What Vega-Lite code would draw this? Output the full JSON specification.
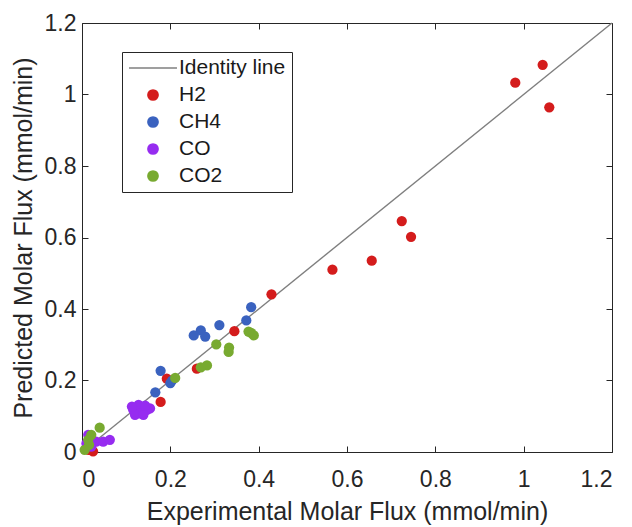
{
  "$schema": "https://vega.github.io/schema/vega-lite/v6.json",
  "autosize": {"type": "none"},
  "width": 530,
  "height": 429,
  "padding": {"left": 82, "top": 23, "right": 20, "bottom": 75},
  "background": "white",
  "config": {
    "font": "Liberation Sans",
    "view": {"stroke": null},
    "axis": {
      "grid": false,
      "domainColor": "#262626",
      "domainWidth": 1,
      "tickColor": "#262626",
      "tickSize": -6,
      "labelFontSize": 23,
      "labelColor": "#262626",
      "titleFontSize": 25,
      "titleFontWeight": "normal",
      "titleColor": "#262626",
      "labelFont": "Liberation Sans",
      "titleFont": "Liberation Sans"
    }
  },
  "datasets": {
    "idl": [
      {"exp": 0, "pred": 0, "series": "Identity line"},
      {"exp": 1.2, "pred": 1.2, "series": "Identity line"}
    ],
    "pts": [
      {"exp": 1.043, "pred": 1.083, "series": "H2"},
      {"exp": 0.981, "pred": 1.033, "series": "H2"},
      {"exp": 1.058, "pred": 0.964, "series": "H2"},
      {"exp": 0.724, "pred": 0.646, "series": "H2"},
      {"exp": 0.745, "pred": 0.602, "series": "H2"},
      {"exp": 0.656, "pred": 0.535, "series": "H2"},
      {"exp": 0.567, "pred": 0.510, "series": "H2"},
      {"exp": 0.429, "pred": 0.441, "series": "H2"},
      {"exp": 0.345, "pred": 0.338, "series": "H2"},
      {"exp": 0.260, "pred": 0.233, "series": "H2"},
      {"exp": 0.192, "pred": 0.205, "series": "H2"},
      {"exp": 0.178, "pred": 0.140, "series": "H2"},
      {"exp": 0.025, "pred": 0.002, "series": "H2"},
      {"exp": 0.015, "pred": 0.006, "series": "H2"},
      {"exp": 0.383, "pred": 0.405, "series": "CH4"},
      {"exp": 0.372, "pred": 0.368, "series": "CH4"},
      {"exp": 0.311, "pred": 0.355, "series": "CH4"},
      {"exp": 0.269, "pred": 0.340, "series": "CH4"},
      {"exp": 0.253, "pred": 0.326, "series": "CH4"},
      {"exp": 0.279, "pred": 0.323, "series": "CH4"},
      {"exp": 0.178, "pred": 0.227, "series": "CH4"},
      {"exp": 0.200, "pred": 0.193, "series": "CH4"},
      {"exp": 0.204, "pred": 0.200, "series": "CH4"},
      {"exp": 0.166, "pred": 0.167, "series": "CH4"},
      {"exp": 0.116, "pred": 0.118, "series": "CO"},
      {"exp": 0.128, "pred": 0.132, "series": "CO"},
      {"exp": 0.132, "pred": 0.108, "series": "CO"},
      {"exp": 0.147, "pred": 0.118, "series": "CO"},
      {"exp": 0.154, "pred": 0.122, "series": "CO"},
      {"exp": 0.120, "pred": 0.104, "series": "CO"},
      {"exp": 0.139, "pred": 0.104, "series": "CO"},
      {"exp": 0.113, "pred": 0.127, "series": "CO"},
      {"exp": 0.143, "pred": 0.130, "series": "CO"},
      {"exp": 0.014, "pred": 0.048, "series": "CO"},
      {"exp": 0.010, "pred": 0.024, "series": "CO"},
      {"exp": 0.021, "pred": 0.015, "series": "CO"},
      {"exp": 0.032, "pred": 0.029, "series": "CO"},
      {"exp": 0.048, "pred": 0.029, "series": "CO"},
      {"exp": 0.063, "pred": 0.034, "series": "CO"},
      {"exp": 0.383, "pred": 0.333, "series": "CO2"},
      {"exp": 0.389, "pred": 0.326, "series": "CO2"},
      {"exp": 0.377, "pred": 0.337, "series": "CO2"},
      {"exp": 0.304, "pred": 0.301, "series": "CO2"},
      {"exp": 0.333, "pred": 0.292, "series": "CO2"},
      {"exp": 0.332, "pred": 0.280, "series": "CO2"},
      {"exp": 0.283, "pred": 0.242, "series": "CO2"},
      {"exp": 0.269, "pred": 0.237, "series": "CO2"},
      {"exp": 0.211, "pred": 0.207, "series": "CO2"},
      {"exp": 0.040, "pred": 0.068, "series": "CO2"},
      {"exp": 0.021, "pred": 0.048, "series": "CO2"},
      {"exp": 0.014, "pred": 0.034, "series": "CO2"},
      {"exp": 0.016, "pred": 0.020, "series": "CO2"},
      {"exp": 0.006, "pred": 0.006, "series": "CO2"}
    ]
  },
  "resolve": {"scale": {"x": "independent", "y": "independent"}},
  "layer": [
    {
      "data": {"name": "idl"},
      "mark": {"type": "line", "strokeWidth": 1.4},
      "encoding": {
        "x": {"field": "exp", "type": "quantitative", "scale": {"domain": [0, 1.2]}, "axis": null},
        "y": {"field": "pred", "type": "quantitative", "scale": {"domain": [0, 1.2]}, "axis": null},
        "color": {"field": "series", "type": "nominal"}
      }
    },
    {
      "data": {"name": "pts"},
      "mark": {"type": "point", "filled": true, "opacity": 1},
      "encoding": {
        "x": {"field": "exp", "type": "quantitative", "scale": {"domain": [0, 1.2]},
              "axis": {"title": "Experimental Molar Flux (mmol/min)", "values": [0, 0.2, 0.4, 0.6, 0.8, 1, 1.2], "format": "~g", "labelPadding": 22, "titlePadding": 8}},
        "y": {"field": "pred", "type": "quantitative", "scale": {"domain": [0, 1.2]},
              "axis": {"title": "Predicted Molar Flux (mmol/min)", "values": [0, 0.2, 0.4, 0.6, 0.8, 1, 1.2], "format": "~g", "labelPadding": 12, "titlePadding": 8}},
        "color": {
          "field": "series", "type": "nominal",
          "scale": {"domain": ["Identity line", "H2", "CH4", "CO", "CO2"], "range": ["#7f7f7f", "#d41c1c", "#3a62bf", "#962cf0", "#78aa30"]},
          "legend": {
            "title": null,
            "orient": "none",
            "legendX": 40,
            "legendY": 29,
            "labelFontSize": 21,
            "labelColor": "#1a1a1a",
            "labelFont": "Liberation Sans",
            "labelOffset": 1,
            "strokeColor": "#262626",
            "fillColor": "white",
            "padding": 6,
            "rowPadding": 6,
            "clipHeight": 20,
            "encode": {"symbols": {"update": {
              "stroke": {"scale": "color", "field": "value"},
              "strokeWidth": {"value": 1.4},
              "size": {"signal": "datum.value === 'Identity line' ? 2300 : 60"}
            }}}
          }
        },
        "shape": {
          "field": "series", "type": "nominal",
          "scale": {"domain": ["Identity line", "H2", "CH4", "CO", "CO2"], "range": ["stroke", "circle", "circle", "circle", "circle"]},
          "legend": {"title": null}
        },
        "size": {
          "field": "series", "type": "nominal",
          "scale": {"type": "ordinal", "domain": ["Identity line", "H2", "CH4", "CO", "CO2"], "range": [2300, 105, 105, 105, 105]},
          "legend": {"title": null}
        }
      }
    },
    {
      "data": {"name": "idl"},
      "mark": {"type": "point", "opacity": 0},
      "encoding": {
        "x": {"field": "exp", "type": "quantitative", "scale": {"domain": [0, 1.2]},
              "axis": {"orient": "top", "labels": false, "title": null, "values": [0, 0.2, 0.4, 0.6, 0.8, 1, 1.2]}},
        "y": {"field": "pred", "type": "quantitative", "scale": {"domain": [0, 1.2]},
              "axis": {"orient": "right", "labels": false, "title": null, "values": [0, 0.2, 0.4, 0.6, 0.8, 1, 1.2]}}
      }
    }
  ]
}
